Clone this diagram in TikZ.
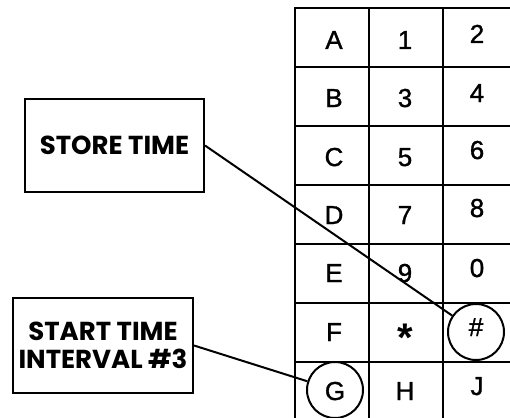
\documentclass[tikz,border=0pt]{standalone}
\usepackage{fontspec}
\setmainfont{Liberation Sans}
\newfontfamily\cellfont{Liberation Sans}[FakeBold=1.2]
\newfontfamily\boxfont{Poppins}
\tikzset{
  gridline/.style={line width=2.2pt},
  cell/.style={anchor=base, inner sep=0pt, font=\cellfont\fontsize{26}{30}\selectfont},
  labelbox/.style={draw, line width=2pt, inner sep=0pt, align=center,
    font=\boxfont\bfseries\fontsize{26}{28}\selectfont},
  ring/.style={draw, circle, line width=2pt, minimum size=56pt, inner sep=0pt},
  conn/.style={line width=2pt}
}
\begin{document}
\begin{tikzpicture}[x=1pt,y=-1pt]
\useasboundingbox (0,0) rectangle (510,417);
\clip (0,0) rectangle (510,417);
\fill[white] (0,0) rectangle (510,417);
% grid
\draw[gridline] (295,430) -- (295,8) -- (530,8);
\foreach \y in {67,126,185,244,303,362} \draw[gridline] (295,\y) -- (530,\y);
\foreach \x in {369,443} \draw[gridline] (\x,8) -- (\x,430);
% labels col1
\node[cell] (cA) at (334,49) {A};
\node[cell] (cB) at (334,107) {B};
\node[cell] (cC) at (334,166) {C};
\node[cell] (cD) at (334,224) {D};
\node[cell] (cE) at (334,282) {E};
\node[cell] (cF) at (334,341) {F};
% col2
\node[cell] (c1) at (405,49) {1};
\node[cell] (c3) at (405,107) {3};
\node[cell] (c5) at (405,166) {5};
\node[cell] (c7) at (405,224) {7};
\node[cell] (c9) at (405,282) {9};
\node[cell, font=\fontsize{40}{40}\selectfont\bfseries] (cstar) at (405,351) {*};
\node[cell] (cH) at (405,400) {H};
% col3
\node[cell] (c2) at (477,43) {2};
\node[cell] (c4) at (477,102) {4};
\node[cell] (c6) at (477,159) {6};
\node[cell] (c8) at (477,217) {8};
\node[cell] (c0) at (477,277) {0};
\node[cell] (chash) at (476,336) {\#};
\node[cell] (cJ) at (477,395) {J};
\node[cell] (cG) at (335,400) {G};
% circles
\node[ring] (hashc) at (476,332) {};
\node[ring] (gc) at (335,390) {};
% boxes
\node[labelbox, minimum width=179pt, minimum height=93pt] (store) at (114.5,145.5) {STORE TIME};
\node[labelbox, minimum width=180pt, minimum height=95pt] (start) at (103,345.5) {START TIME\\INTERVAL \#3};
% connectors
\draw[conn] (store.east) -- (hashc);
\draw[conn] (start.east) -- (gc);
\end{tikzpicture}
\end{document}
